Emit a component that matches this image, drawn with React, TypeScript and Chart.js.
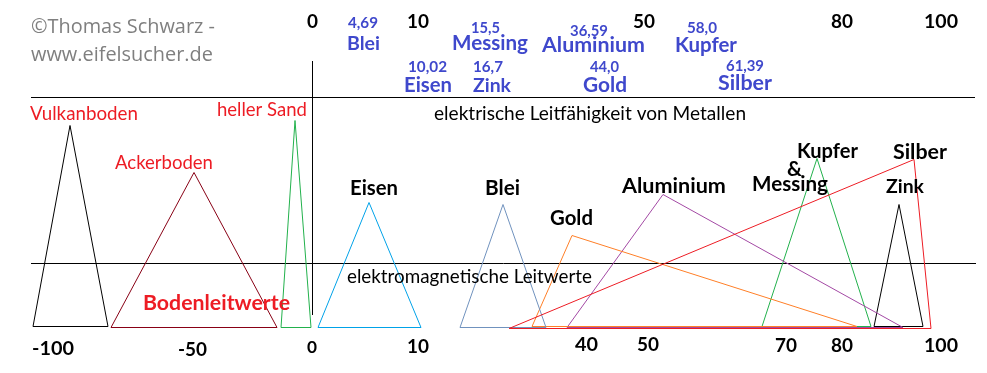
import React, { useEffect, useRef } from "react";
import { Chart, registerables } from "chart.js";

Chart.register(...registerables);

// ---- Data: conductivity ranges drawn as triangles (diagram position units) ----
const triangleNames = [
  "Silber",
  "Vulkanboden",
  "Ackerboden",
  "heller Sand",
  "Eisen",
  "Blei",
  "Gold",
  "Aluminium",
  "Kupfer & Messing",
  "Zink",
];
const baseLeft = [509, 33, 111, 281, 318, 460, 532, 567, 762, 874];
const apexPos = [914, 70, 194, 295, 369, 503, 572, 663, 817, 899];
const baseRight = [931, 108, 277, 311, 421, 546, 857, 903, 871, 923];
const apexHeight = [168, 202, 155, 207, 125, 123, 92, 133, 169, 123];
const baseLevel = [-1, 1, 0, 0, 0, 0, 1, 0, 1, 1];
const triangleColors = [
  "#ed1c24",
  "#000000",
  "#880015",
  "#22b14c",
  "#00a2e8",
  "#7092be",
  "#ff7f27",
  "#a349a4",
  "#22b14c",
  "#000000",
];

// scale tick labels
const topTickLabels = ["0", "10", "50", "80", "100"];
const bottomTickLabels = ["-100", "-50", "0", "10", "40", "50", "70", "80", "100"];

// metal conductivities (top legend)
const metalNames = ["Blei", "Messing", "Aluminium", "Kupfer", "Eisen", "Zink", "Gold", "Silber"];
const metalValues = ["4,69", "15,5", "36,59", "58,0", "10,02", "16,7", "44,0", "61,39"];

// ---- Layout (positions in scale units) ----
const Y0 = 327.5; // pixel row of zero level
const yv = (pix: number) => Y0 - pix;

const topTickLayout = [
  { x: 307, w: 11 },
  { x: 407, w: 22 },
  { x: 633, w: 22 },
  { x: 831, w: 22 },
  { x: 924, w: 34 },
];
const bottomTickLayout = [
  { x: 32, w: 42, b: 355 },
  { x: 178, w: 29, b: 356 },
  { x: 307, w: 10, b: 353 },
  { x: 407, w: 22, b: 353 },
  { x: 575, w: 23, b: 351 },
  { x: 637, w: 22, b: 351 },
  { x: 775, w: 22, b: 352 },
  { x: 831, w: 22, b: 352 },
  { x: 924, w: 34, b: 352 },
];
const metalValueLayout = [
  { x: 348, w: 30, b: 28 },
  { x: 471, w: 29, b: 33 },
  { x: 570, w: 38, b: 36 },
  { x: 687, w: 30, b: 33 },
  { x: 408, w: 39, b: 72 },
  { x: 473, w: 30, b: 72 },
  { x: 590, w: 29, b: 72 },
  { x: 726, w: 38, b: 71 },
];
const metalNameLayout = [
  { x: 347, w: 33, b: 50 },
  { x: 452, w: 76, b: 50 },
  { x: 542, w: 103, b: 52 },
  { x: 675, w: 62, b: 52 },
  { x: 404, w: 48, b: 92 },
  { x: 473, w: 38, b: 92 },
  { x: 583, w: 44, b: 92 },
  { x: 718, w: 54, b: 90 },
];

type Txt = {
  t: string;
  x: number;
  w: number;
  b: number;
  color: string;
  bold: boolean;
  family: string;
};

const LATO = "Lato, 'Open Sans', sans-serif";
const OPEN = "'Open Sans', Lato, sans-serif";

const freeTexts: Txt[] = [
  { t: "©Thomas Schwarz -", x: 31, w: 184, b: 33, color: "#7f7f7f", bold: false, family: OPEN },
  { t: "www.eifelsucher.de", x: 31, w: 182, b: 61, color: "#7f7f7f", bold: false, family: OPEN },
  { t: "elektrische Leitfähigkeit von Metallen", x: 434, w: 312, b: 120, color: "#000", bold: false, family: LATO },
  { t: "elektromagnetische Leitwerte", x: 347, w: 245, b: 283, color: "#000", bold: false, family: LATO },
  { t: "Vulkanboden", x: 30, w: 108, b: 120, color: "#ed1c24", bold: false, family: LATO },
  { t: "heller Sand", x: 217, w: 90, b: 116, color: "#ed1c24", bold: false, family: LATO },
  { t: "Ackerboden", x: 115, w: 98, b: 169, color: "#ed1c24", bold: false, family: LATO },
  { t: "Bodenleitwerte", x: 143, w: 147, b: 310, color: "#ed1c24", bold: true, family: LATO },
  { t: "Eisen", x: 350, w: 48, b: 195, color: "#000", bold: true, family: LATO },
  { t: "Blei", x: 485, w: 35, b: 195, color: "#000", bold: true, family: LATO },
  { t: "Gold", x: 550, w: 43, b: 225, color: "#000", bold: true, family: LATO },
  { t: "Aluminium", x: 622, w: 104, b: 193, color: "#000", bold: true, family: LATO },
  { t: "Kupfer", x: 797, w: 61, b: 158, color: "#000", bold: true, family: LATO },
  { t: "&", x: 787, w: 15, b: 176, color: "#000", bold: true, family: LATO },
  { t: "Messing", x: 752, w: 76, b: 191, color: "#000", bold: true, family: LATO },
  { t: "Silber", x: 893, w: 54, b: 159, color: "#000", bold: true, family: LATO },
  { t: "Zink", x: 886, w: 38, b: 193, color: "#000", bold: true, family: LATO },
];

const textPlugin = {
  id: "diagramTexts",
  afterDatasetsDraw(chart: any) {
    const ctx = chart.ctx as CanvasRenderingContext2D;
    const xs = chart.scales.x;
    const ys = chart.scales.y;
    const items: Txt[] = [...freeTexts];
    topTickLabels.forEach((t, i) =>
      items.push({ t, x: topTickLayout[i].x, w: topTickLayout[i].w, b: 28, color: "#000", bold: true, family: LATO })
    );
    bottomTickLabels.forEach((t, i) =>
      items.push({ t, x: bottomTickLayout[i].x, w: bottomTickLayout[i].w, b: bottomTickLayout[i].b, color: "#000", bold: true, family: LATO })
    );
    metalValues.forEach((t, i) =>
      items.push({ t, x: metalValueLayout[i].x, w: metalValueLayout[i].w, b: metalValueLayout[i].b, color: "#3f48cc", bold: true, family: LATO })
    );
    metalNames.forEach((t, i) =>
      items.push({ t, x: metalNameLayout[i].x, w: metalNameLayout[i].w, b: metalNameLayout[i].b, color: "#3f48cc", bold: true, family: LATO })
    );
    ctx.save();
    ctx.textAlign = "left";
    ctx.textBaseline = "alphabetic";
    for (const it of items) {
      const weight = it.bold ? "bold" : "normal";
      ctx.font = `${weight} 20px ${it.family}`;
      const m = ctx.measureText(it.t).width;
      const size = (20 * it.w) / m;
      ctx.font = `${weight} ${size.toFixed(2)}px ${it.family}`;
      ctx.fillStyle = it.color;
      const px = xs.getPixelForValue(it.x);
      const py = ys.getPixelForValue(yv(it.b));
      ctx.fillText(it.t, px, py);
    }
    ctx.restore();
  },
};

export default function App() {
  const ref = useRef<HTMLCanvasElement | null>(null);
  useEffect(() => {
    document.body.style.margin = "0";
    const canvas = ref.current;
    if (!canvas) return;

    const triangleSets = triangleNames.map((name, i) => ({
      label: name,
      data: [
        { x: baseLeft[i], y: baseLevel[i] },
        { x: apexPos[i], y: apexHeight[i] },
        { x: baseRight[i], y: baseLevel[i] },
        { x: baseLeft[i], y: baseLevel[i] },
      ],
      borderColor: triangleColors[i],
      borderWidth: 1,
      pointRadius: 0,
      showLine: true,
      fill: false,
      tension: 0,
    }));

    const guide = (pts: { x: number; y: number }[], label: string) => ({
      label,
      data: pts,
      borderColor: "#000000",
      borderWidth: 1,
      pointRadius: 0,
      showLine: true,
      fill: false,
      tension: 0,
    });

    const chart = new Chart(canvas, {
      type: "scatter",
      data: {
        datasets: [
          ...triangleSets,
          guide([{ x: 31, y: yv(97.5) }, { x: 975, y: yv(97.5) }], "Metalle"),
          guide([{ x: 31, y: yv(263.5) }, { x: 976, y: yv(263.5) }], "Leitwerte"),
          guide([{ x: 312.5, y: yv(61) }, { x: 312.5, y: yv(315) }], "Null"),
        ],
      },
      options: {
        responsive: false,
        animation: false,
        layout: { padding: 0 },
        scales: {
          x: { type: "linear", min: 0, max: 987, display: false },
          y: { type: "linear", min: Y0 - 373, max: Y0, display: false },
        },
        plugins: {
          legend: { display: false },
          tooltip: { enabled: false },
        },
      },
      plugins: [textPlugin],
    });
    return () => chart.destroy();
  }, []);

  return (
    <div style={{ width: 987, height: 373, background: "#fff" }}>
      <canvas ref={ref} width={987} height={373} style={{ display: "block" }} />
    </div>
  );
}
